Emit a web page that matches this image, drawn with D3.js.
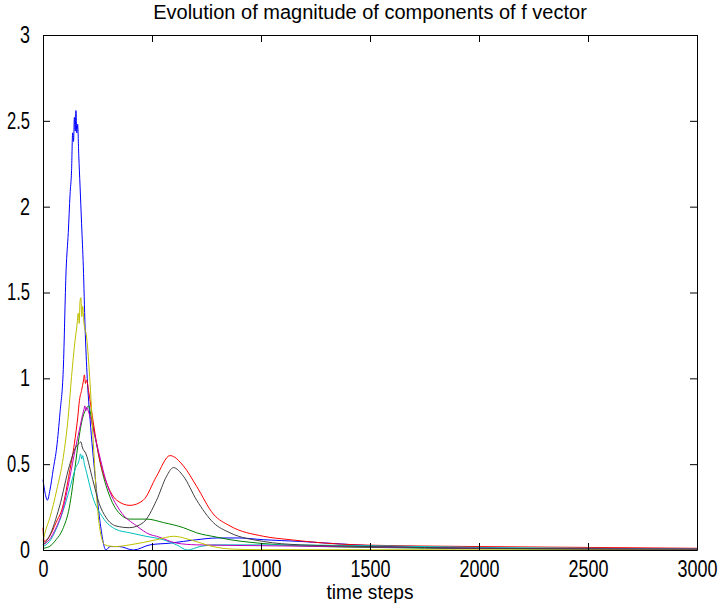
<!DOCTYPE html>
<html>
<head>
<meta charset="utf-8">
<script src="https://cdn.jsdelivr.net/npm/d3@7"></script>
<style>
  body { margin: 0; background: #fff; }
  text { font-family: "Liberation Sans", Arial, Helvetica, sans-serif; }
</style>
</head>
<body>
<div id="chart"></div>
<script>
// magnitude of each component of f as [time step, value]
const blue = [[0,0.41],[10,0.33],[20,0.29],[32,0.35],[47,0.47],[63,0.60],[78,0.80],[93,1.05],[106,1.63],[116,1.85],[124,2.07],[131,2.21],[136,2.43],[140,2.38],[144,2.52],[148,2.44],[151,2.56],[155,2.43],[159,2.48],[164,2.30],[170,2.12],[177,1.90],[185,1.65],[193,1.30],[203,1.00],[216,0.76],[239,0.43],[261,0.17],[289,0.0],[307,0.02],[350,0.02],[414,0.0],[491,0.03],[583,0.04],[705,0.06],[800,0.07],[900,0.07],[1010,0.06],[1180,0.05],[1500,0.025],[2000,0.01],[2500,0.005],[3000,0.003]];
const green = [[0,0.01],[29,0.02],[60,0.06],[90,0.12],[121,0.25],[144,0.45],[159,0.60],[180,0.76],[197,0.82],[210,0.84],[220,0.78],[239,0.66],[269,0.47],[307,0.31],[353,0.21],[399,0.18],[476,0.18],[552,0.16],[644,0.13],[705,0.10],[797,0.075],[858,0.06],[950,0.045],[1164,0.025],[1500,0.015],[2000,0.008],[3000,0.003]];
const red = [[0,0.13],[5,0.05],[30,0.08],[60,0.16],[90,0.25],[121,0.45],[144,0.62],[160,0.78],[167,0.87],[177,0.93],[186,0.99],[190,1.02],[195,0.97],[200,0.99],[210,0.92],[231,0.74],[261,0.52],[292,0.39],[338,0.29],[399,0.26],[460,0.29],[521,0.43],[583,0.55],[644,0.49],[705,0.37],[781,0.21],[858,0.14],[1011,0.08],[1133,0.06],[1440,0.03],[2000,0.02],[2500,0.015],[3000,0.01]];
const cyan = [[0,0.02],[30,0.05],[60,0.12],[90,0.22],[121,0.35],[150,0.48],[165,0.52],[172,0.56],[178,0.53],[182,0.55],[190,0.50],[200,0.45],[228,0.31],[274,0.19],[335,0.12],[399,0.10],[472,0.08],[552,0.06],[613,0.03],[662,0.0],[720,0.02],[800,0.03],[1000,0.03],[1500,0.025],[2000,0.015],[2500,0.01],[3000,0.006]];
const magenta = [[0,0.03],[29,0.06],[60,0.13],[90,0.23],[121,0.41],[150,0.60],[167,0.70],[182,0.79],[188,0.82],[192,0.84],[196,0.81],[200,0.83],[210,0.80],[246,0.62],[292,0.39],[353,0.23],[430,0.14],[491,0.09],[521,0.08],[613,0.04],[705,0.03],[1000,0.025],[1500,0.018],[2000,0.01],[3000,0.005]];
const yellow = [[0,0.05],[9,0.10],[32,0.19],[63,0.35],[93,0.54],[116,0.78],[131,1.01],[147,1.22],[155,1.30],[162,1.38],[166,1.32],[170,1.45],[174,1.47],[178,1.36],[182,1.42],[187,1.33],[200,1.24],[216,0.97],[231,0.62],[246,0.31],[261,0.12],[284,0.03],[330,0.02],[399,0.03],[521,0.06],[600,0.08],[674,0.06],[780,0.02],[870,0.005],[1000,0.002],[3000,0.0]];
const black = [[0,0.03],[29,0.08],[75,0.25],[121,0.49],[151,0.60],[165,0.62],[174,0.63],[180,0.60],[197,0.56],[228,0.41],[258,0.27],[289,0.19],[335,0.14],[396,0.13],[460,0.16],[521,0.29],[567,0.43],[598,0.48],[644,0.43],[705,0.29],[781,0.16],[858,0.10],[1010,0.05],[1180,0.03],[1500,0.02],[2000,0.01],[3000,0.005]];

const xTicks = [0, 500, 1000, 1500, 2000, 2500, 3000];
const yTicks = [0, 0.5, 1, 1.5, 2, 2.5, 3];

// matlab default colour order
const series = [
  {values: blue, color: "#0000ff"},
  {values: green, color: "#008000"},
  {values: red, color: "#ff0000"},
  {values: cyan, color: "#00bfbf"},
  {values: magenta, color: "#bf00bf"},
  {values: yellow, color: "#bfbf00"},
  {values: black, color: "#404040"}
];

const width = 720, height = 610;
const margin = {top: 35, right: 23, bottom: 60, left: 43};

const svg = d3.select("#chart").append("svg")
    .attr("width", width)
    .attr("height", height);

const x = d3.scaleLinear().domain([0, 3000]).range([margin.left, width - margin.right]);
const y = d3.scaleLinear().domain([0, 3]).range([height - margin.bottom, margin.top]);

const line = d3.line()
    .x(d => x(d[0]))
    .y(d => y(d[1]))
    .curve(d3.curveMonotoneX);

svg.append("g")
  .selectAll("path")
  .data(series)
  .join("path")
    .attr("fill", "none")
    .attr("stroke", d => d.color)
    .attr("stroke-width", 1)
    .attr("d", d => line(d.values));

// axes, ticks pointing inwards like matlab
const fmt = d => String(d);
const tick = 7;

svg.append("g")
    .attr("transform", `translate(0,${y(0)})`)
    .call(d3.axisBottom(x).tickValues(xTicks).tickFormat(fmt).tickSizeInner(-tick).tickSizeOuter(0).tickPadding(tick + 4));
svg.append("g")
    .attr("transform", `translate(0,${y(3)})`)
    .call(d3.axisTop(x).tickValues(xTicks).tickFormat("").tickSizeInner(-tick).tickSizeOuter(0));
svg.append("g")
    .attr("transform", `translate(${x(0)},0)`)
    .call(d3.axisLeft(y).tickValues(yTicks).tickFormat(fmt).tickSizeInner(-tick).tickSizeOuter(0).tickPadding(tick + 6));
svg.append("g")
    .attr("transform", `translate(${x(3000)},0)`)
    .call(d3.axisRight(y).tickValues(yTicks).tickFormat("").tickSizeInner(-tick).tickSizeOuter(0));

svg.selectAll(".domain").attr("stroke", "#000");
svg.selectAll(".tick line").attr("stroke", "#000");

// the labels in the original are a condensed helvetica, squeeze them a bit
svg.selectAll(".tick text")
    .attr("fill", "#000")
    .style("font-size", "23px")
    .style("font-family", null)
    .each(function() {
      const w = this.getComputedTextLength();
      const k = this.textContent.includes(".") ? 0.72 : 0.78;
      if (w > 0) d3.select(this).attr("textLength", w * k).attr("lengthAdjust", "spacingAndGlyphs");
    });

svg.append("text")
    .attr("x", (x(0) + x(3000)) / 2)
    .attr("y", 19)
    .attr("text-anchor", "middle")
    .style("font-size", "20px")
    .text("Evolution of magnitude of components of f vector");

svg.append("text")
    .attr("x", (x(0) + x(3000)) / 2)
    .attr("y", 599)
    .attr("text-anchor", "middle")
    .attr("textLength", 87)
    .attr("lengthAdjust", "spacingAndGlyphs")
    .style("font-size", "20px")
    .text("time steps");
</script>
</body>
</html>
